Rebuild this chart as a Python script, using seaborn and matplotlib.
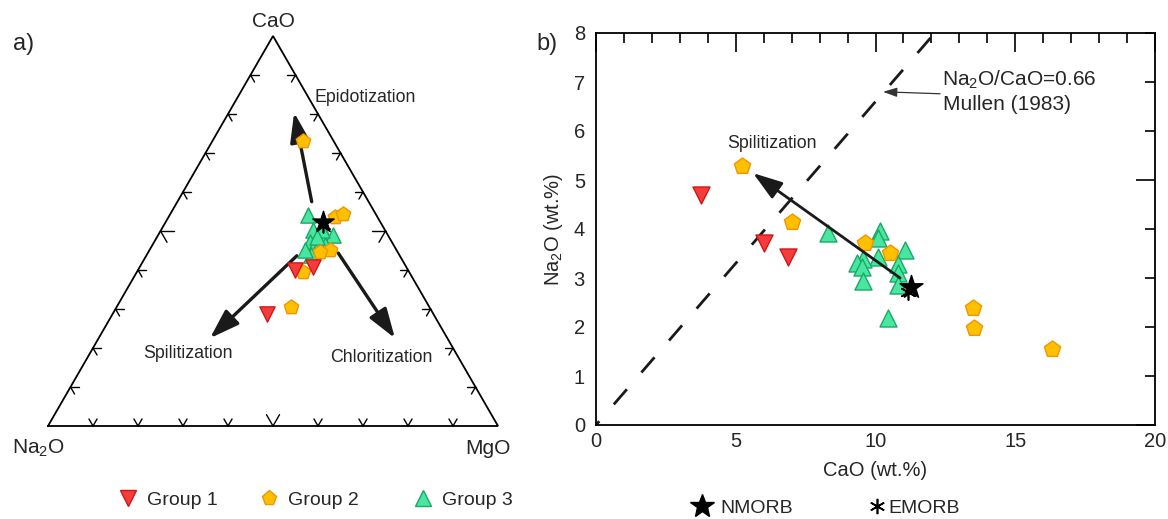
import numpy as np
import pandas as pd
import matplotlib
matplotlib.use("Agg")
import matplotlib.pyplot as plt
import seaborn as sns
from matplotlib.lines import Line2D

# ---------------- data ----------------
# Ternary (a): CaO - Na2O - MgO (relative %)
g1_t_cao = [40.0, 40.7, 28.7]
g1_t_na2o = [25.1, 20.8, 36.9]
g1_t_mgo = [34.9, 38.5, 34.4]

g2_t_cao = [53.7, 54.4, 45.2, 44.5, 39.6, 30.6, 73.0]
g2_t_na2o = [9.4, 7.3, 14.7, 17.3, 23.5, 30.8, 6.8]
g2_t_mgo = [36.9, 38.3, 40.1, 38.2, 36.9, 38.6, 20.2]

g3_t_cao = [54.1, 50.3, 47.3, 46.9, 49.0, 49.0, 46.4, 46.0, 43.9, 50.3, 45.2, 48.5]
g3_t_na2o = [15.1, 15.9, 18.1, 16.9, 13.9, 12.1, 15.2, 16.9, 19.5, 14.0, 20.3, 16.0]
g3_t_mgo = [30.8, 33.8, 34.6, 36.2, 37.1, 38.9, 38.4, 37.1, 36.6, 35.7, 34.5, 35.5]

nmorb_t = [52.2, 12.9, 34.9]
emorb_t = [51.6, 13.1, 35.3]

# Binary (b): CaO vs Na2O (wt.%)
g1_cao = [3.74, 6.01, 6.88]
g1_na2o = [4.70, 3.72, 3.42]
g2_cao = [5.21, 7.02, 9.62, 10.52, 13.48, 13.52, 16.31]
g2_na2o = [5.29, 4.15, 3.71, 3.52, 2.39, 1.97, 1.55]
g3_cao = [8.29, 10.16, 10.10, 11.05, 10.10, 9.56, 9.33, 9.51, 10.82, 10.82, 9.54, 10.82, 10.44]
g3_na2o = [3.91, 3.96, 3.81, 3.58, 3.43, 3.38, 3.30, 3.23, 3.29, 3.10, 2.94, 2.86, 2.18]
nmorb_cao, nmorb_na2o = [11.28], [2.81]
emorb_cao, emorb_na2o = [11.18], [2.72]
mullen_ratio = 0.66

group_labels = ["Group 1", "Group 2", "Group 3"]
morb_labels = ["NMORB", "EMORB"]

# ---------------- style ----------------
sns.set_style("white")
plt.rcParams["font.family"] = ["Liberation Sans", "DejaVu Sans"]
plt.rcParams["mathtext.fontset"] = "custom"
plt.rcParams["mathtext.rm"] = "Liberation Sans"
plt.rcParams["mathtext.it"] = "Liberation Sans:italic"
plt.rcParams["mathtext.bf"] = "Liberation Sans:bold"

C1_FILL, C1_EDGE = "#f43c3c", "#d41414"
C2_FILL, C2_EDGE = "#ffc000", "#f29400"
C3_FILL, C3_EDGE = "#48e6a0", "#1aa866"
ARROW = "#1a1a1a"

fig = plt.figure(figsize=(11.68, 5.19), dpi=100)

# ---------------- (a) ternary ----------------
H = np.sqrt(3) / 2
axt = fig.add_axes([48 / 1168, (519 - 426) / 519, 450 / 1168, 390 / 519])
axt.set_xlim(0, 1)
axt.set_ylim(0, H)
axt.axis("off")


def tern_xy(cao, na2o, mgo):
    cao = np.asarray(cao, float)
    na2o = np.asarray(na2o, float)
    mgo = np.asarray(mgo, float)
    tot = cao + na2o + mgo
    c = cao / tot
    m = mgo / tot
    return m + 0.5 * c, c * H


axt.plot([0, 1, 0.5, 0], [0, 0, H, 0], color="black", lw=1.3, clip_on=False,
         solid_joinstyle="miter")
dirs = {
    "bottom": [(-0.5, H), (0.5, H)],
    "left": [(1, 0), (0.5, -H)],
    "right": [(-1, 0), (-0.5, -H)],
}
for f in np.arange(1, 10) / 10:
    L = 0.029 if abs(f - 0.5) < 1e-6 else 0.018
    pts = {"bottom": (f, 0), "left": (0.5 * f, H * f), "right": (1 - 0.5 * f, H * f)}
    for k, (px, py) in pts.items():
        for dx, dy in dirs[k]:
            axt.plot([px, px + L * dx], [py, py + L * dy], color="black", lw=1.0,
                     clip_on=False)

# arrows
arrow_kw = dict(arrowstyle="-|>,head_length=0.9,head_width=0.3", lw=2.4,
                color=ARROW, mutation_scale=20, shrinkA=0, shrinkB=0)
axt.annotate("", xy=(0.547, 0.696), xytext=(0.586, 0.498), arrowprops=arrow_kw, zorder=2)
axt.annotate("", xy=(0.360, 0.195), xytext=(0.553, 0.378), arrowprops=arrow_kw, zorder=2)
axt.annotate("", xy=(0.771, 0.195), xytext=(0.645, 0.384), arrowprops=arrow_kw, zorder=2)

for cao, na, mg, mk, fc, ec in [
    (g3_t_cao, g3_t_na2o, g3_t_mgo, "^", C3_FILL, C3_EDGE),
    (g2_t_cao, g2_t_na2o, g2_t_mgo, "p", C2_FILL, C2_EDGE),
    (g1_t_cao, g1_t_na2o, g1_t_mgo, "v", C1_FILL, C1_EDGE),
]:
    x, y = tern_xy(cao, na, mg)
    sns.scatterplot(x=x, y=y, ax=axt, marker=mk, color=fc, edgecolor=ec,
                    linewidth=1.0, s=120, zorder=3, legend=False)

ex, ey = tern_xy([emorb_t[0]], [emorb_t[1]], [emorb_t[2]])
axt.scatter(ex, ey, marker=(6, 2, 0), s=110, color="black", lw=1.2, zorder=4)
nx, ny = tern_xy([nmorb_t[0]], [nmorb_t[1]], [nmorb_t[2]])
axt.scatter(nx, ny, marker="*", s=260, color="black", zorder=5)


def fig_text(px, py, s, **kw):
    fig.text(px / 1168, 1 - py / 519, s, **kw)


fig_text(273, 22, "CaO", fontsize=15, ha="center", va="center")
fig_text(38, 448, "Na$_2$O", fontsize=15, ha="center", va="center")
fig_text(488, 448, "MgO", fontsize=15, ha="center", va="center")
fig_text(315, 97, "Epidotization", fontsize=12.8, ha="left", va="center")
fig_text(188, 353, "Spilitization", fontsize=12.8, ha="center", va="center")
fig_text(381, 357, "Chloritization", fontsize=12.8, ha="center", va="center")
fig_text(24, 44, "a)", fontsize=17, ha="center", va="center")
fig_text(547, 44, "b)", fontsize=17, ha="center", va="center")

# ---------------- (b) CaO vs Na2O ----------------
axb = fig.add_axes([596 / 1168, (519 - 425) / 519, (1155 - 596) / 1168, (425 - 33) / 519])
axb.set_xlim(0, 20)
axb.set_ylim(0, 8)

# Mullen (1983) line
xl = np.array([0, 8 / mullen_ratio])
axb.plot(xl, mullen_ratio * xl, color="#1a1a1a", lw=2.0,
         linestyle=(5.4, (7.2, 8.0)), zorder=1)

for xs, ys, mk, fc, ec in [
    (g3_cao, g3_na2o, "^", C3_FILL, C3_EDGE),
    (g2_cao, g2_na2o, "p", C2_FILL, C2_EDGE),
    (g1_cao, g1_na2o, "v", C1_FILL, C1_EDGE),
]:
    sns.scatterplot(x=xs, y=ys, ax=axb, marker=mk, color=fc, edgecolor=ec,
                    linewidth=1.0, s=150, zorder=3, legend=False)

axb.scatter(emorb_cao, emorb_na2o, marker=(6, 2, 0), s=120, color="black", lw=1.2, zorder=4)
axb.scatter(nmorb_cao, nmorb_na2o, marker="*", s=300, color="black", zorder=5)

axb.annotate("", xy=(5.62, 5.14), xytext=(10.88, 3.0),
             arrowprops=dict(arrowstyle="-|>,head_length=0.9,head_width=0.3", lw=2.0,
                             color=ARROW, mutation_scale=20, shrinkA=0, shrinkB=0),
             zorder=6)
axb.annotate("", xy=(10.27, 6.80), xytext=(12.31, 6.76),
             arrowprops=dict(arrowstyle="-|>,head_length=0.6,head_width=0.2", lw=0.9,
                             color="#333333", mutation_scale=14, shrinkA=0, shrinkB=0))
axb.text(12.38, 7.04, "Na$_2$O/CaO=0.66", fontsize=15, ha="left", va="center")
axb.text(12.40, 6.55, "Mullen (1983)", fontsize=15, ha="left", va="center")
axb.text(6.28, 5.75, "Spilitization", fontsize=12.8, ha="center", va="center")

# ticks
axb.set_xticks([0, 5, 10, 15, 20])
axb.set_xticks(np.arange(0, 21, 1), minor=True)
axb.set_yticks([0, 5])
axb.set_yticks([1, 2, 3, 4, 6, 7, 8], minor=True, labels=["1", "2", "3", "4", "6", "7", "8"])
axb.tick_params(axis="both", which="both", direction="in", top=True, right=True,
                width=1.2, color="black", labelsize=14.5)
axb.tick_params(axis="both", which="major", length=14)
axb.tick_params(axis="both", which="minor", length=7)
axb.tick_params(axis="x", which="both", pad=5)
axb.tick_params(axis="y", which="both", pad=8)
for sp in axb.spines.values():
    sp.set_linewidth(1.3)
    sp.set_color("black")
axb.set_xlabel("CaO (wt.%)", fontsize=14.5, labelpad=7)
axb.set_ylabel("Na$_2$O (wt.%)", fontsize=14.5, labelpad=6)

# ---------------- legends (one entry each, placed by marker centre) ----------------
FS = 14
EM = FS * 100 / 72  # px per em


def leg_item(handle, label, mx, my, pad_px):
    hl = 1.0
    fig.legend([handle], [label], loc="center left",
               bbox_to_anchor=((mx - hl * EM / 2) / 1168, 1 - my / 519),
               frameon=False, fontsize=FS, handlelength=hl,
               handletextpad=pad_px / EM, borderpad=0, borderaxespad=0)


h_groups = [
    Line2D([], [], ls="", marker="v", ms=11, mfc=C1_FILL, mec=C1_EDGE, mew=1.0),
    Line2D([], [], ls="", marker="p", ms=11, mfc=C2_FILL, mec=C2_EDGE, mew=1.0),
    Line2D([], [], ls="", marker="^", ms=11, mfc=C3_FILL, mec=C3_EDGE, mew=1.0),
]
for h, lab, mx in zip(h_groups, group_labels, [128, 269, 423]):
    leg_item(h, lab, mx, 500, 9.5)

h_morb = [
    Line2D([], [], ls="", marker="*", ms=18, mfc="black", mec="black"),
    Line2D([], [], ls="", marker=(6, 2, 0), ms=11, mfc="black", mec="black", mew=1.2),
]
for h, lab, mx, pad in zip(h_morb, morb_labels, [702, 877], [8.5, 1.5]):
    leg_item(h, lab, mx, 508, pad)

fig.savefig("out.png", dpi=100)
